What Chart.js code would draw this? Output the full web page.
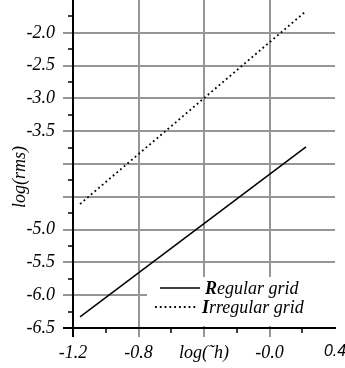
<!DOCTYPE html>
<html>
<head>
<meta charset="utf-8">
<script src="https://cdn.jsdelivr.net/npm/chart.js@4/dist/chart.umd.min.js"></script>
<style>
  body { margin: 0; background: #fff; }
  canvas { display: block; }
</style>
</head>
<body>
<canvas id="rmsChart" width="345" height="368"></canvas>
<script>
// values
const logH = [-1.157, 0.223];
const regularRms = [-6.33, -3.74];
const irregularRms = [-4.61, -1.67];
const seriesNames = ['Regular grid', 'Irregular grid'];
const xTitle = 'log(˜h)';
const yTitle = 'log(rms)';

const SERIF = 'Liberation Serif';
const GRID = '#969696';

function isMultiple(v, step) {
    return Math.abs(Math.round(v / step) * step - v) < 1e-6;
}

// short black ticks between the labelled ones, plus legend and y title
const extras = {
    id: 'extras',
    afterDraw(chart) {
        const c = chart.ctx;
        const area = chart.chartArea;
        const xs = chart.scales.x, ys = chart.scales.y;
        c.save();
        c.strokeStyle = '#000';
        c.lineWidth = 1.5;
        xs.ticks.forEach(t => {
            if (isMultiple(t.value, 0.4)) return;
            const px = Math.round(xs.getPixelForValue(t.value));
            c.beginPath(); c.moveTo(px, area.bottom); c.lineTo(px, area.bottom + 5); c.stroke();
        });
        ys.ticks.forEach(t => {
            if (isMultiple(t.value, 0.5)) return;
            const py = Math.round(ys.getPixelForValue(t.value));
            c.beginPath(); c.moveTo(area.left - 5, py); c.lineTo(area.left, py); c.stroke();
        });

        // y title
        c.fillStyle = '#000';
        c.font = 'italic 18px "' + SERIF + '"';
        c.textAlign = 'center';
        c.textBaseline = 'middle';
        c.translate(20, 177);
        c.rotate(-Math.PI / 2);
        c.fillText(yTitle, 0, 0);
        c.restore();

        // legend box
        c.save();
        const bx = area.left + 74, by = area.bottom - 51;
        c.fillStyle = '#fff';
        c.fillRect(bx, by, area.right - bx, 49);
        chart.data.datasets.forEach((ds, i) => {
            const y = by + 11 + i * 19;
            c.strokeStyle = '#000';
            c.lineWidth = ds.borderWidth;
            c.setLineDash(ds.borderDash || []);
            c.beginPath();
            c.moveTo(bx + (i ? 8 : 13), y);
            c.lineTo(bx + (i ? 50 : 53), y);
            c.stroke();
            c.setLineDash([]);
            c.fillStyle = '#000';
            c.textBaseline = 'alphabetic';
            c.textAlign = 'left';
            let tx = bx + (i ? 55 : 58);
            c.font = 'italic bold 18px "' + SERIF + '"';
            c.fillText(ds.label[0], tx, y + 6);
            tx += c.measureText(ds.label[0]).width;
            c.font = 'italic 18px "' + SERIF + '"';
            c.fillText(ds.label.slice(1), tx, y + 6);
        });
        c.restore();
    }
};

const ctx = document.getElementById('rmsChart');
new Chart(ctx, {
    type: 'scatter',
    data: {
        datasets: [
            {
                label: seriesNames[0],
                data: logH.map((x, i) => ({ x: x, y: regularRms[i] })),
                showLine: true,
                borderColor: '#000',
                borderWidth: 1.5,
                pointRadius: 0
            },
            {
                label: seriesNames[1],
                data: logH.map((x, i) => ({ x: x, y: irregularRms[i] })),
                showLine: true,
                borderColor: '#000',
                borderWidth: 1.8,
                borderDash: [1.8, 3],
                pointRadius: 0
            }
        ]
    },
    options: {
        responsive: false,
        animation: false,
        devicePixelRatio: 1,
        layout: { padding: { top: 0, right: 10, bottom: 0, left: 0 } },
        plugins: {
            legend: { display: false },
            tooltip: { enabled: false }
        },
        scales: {
            x: {
                type: 'linear',
                min: -1.2,
                max: 0.4,
                afterFit(s) { s.height = 40; s.paddingLeft = 0; s.paddingRight = 0; },
                border: { color: '#000', width: 2 },
                grid: {
                    lineWidth: 2,
                    tickLength: 9,
                    tickWidth: 2,
                    color: c => {
                        const v = c.tick.value;
                        return isMultiple(v, 0.4) && v > -1.1 && v < 0.3 ? GRID : 'rgba(0,0,0,0)';
                    },
                    tickColor: c => {
                        const v = c.tick.value;
                        if (!isMultiple(v, 0.4) || v > 0.3) return 'rgba(0,0,0,0)';
                        return v < -1.1 ? '#000' : GRID;
                    }
                },
                ticks: {
                    stepSize: 0.2,
                    autoSkip: false,
                    maxRotation: 0,
                    padding: 5,
                    color: '#000',
                    font: c => (c.tick && c.tick.value > 0.3)
                        ? { family: 'Liberation Sans', size: 16, style: 'italic' }
                        : { family: SERIF, size: 18, style: 'italic' },
                    callback: v => {
                        if (!isMultiple(v, 0.4)) return '';
                        if (Math.abs(v + 0.4) < 1e-6) return xTitle;
                        if (Math.abs(v) < 1e-6) return '-0.0';
                        return v.toFixed(1);
                    }
                }
            },
            y: {
                type: 'linear',
                min: -6.5,
                max: -1.5,
                afterFit(s) { s.width = 73; s.paddingTop = 0; s.paddingBottom = 0; },
                border: { color: '#000', width: 2 },
                grid: {
                    lineWidth: 2,
                    tickLength: 10,
                    tickWidth: 2,
                    color: c => {
                        const v = c.tick.value;
                        return isMultiple(v, 0.5) && v > -6.4 && v < -1.6 ? GRID : 'rgba(0,0,0,0)';
                    },
                    tickColor: c => {
                        const v = c.tick.value;
                        if (!isMultiple(v, 0.5) || v > -1.6) return 'rgba(0,0,0,0)';
                        return v < -6.4 ? '#000' : GRID;
                    }
                },
                ticks: {
                    stepSize: 0.25,
                    autoSkip: false,
                    padding: 8,
                    color: '#000',
                    font: { family: SERIF, size: 18, style: 'italic' },
                    callback: v => {
                        if (!isMultiple(v, 0.5)) return '';
                        if (v > -1.6) return null;
                        if (Math.abs(v + 4) < 1e-6 || Math.abs(v + 4.5) < 1e-6) return '';
                        return v.toFixed(1);
                    }
                }
            }
        }
    },
    plugins: [extras]
});
</script>
</body>
</html>
